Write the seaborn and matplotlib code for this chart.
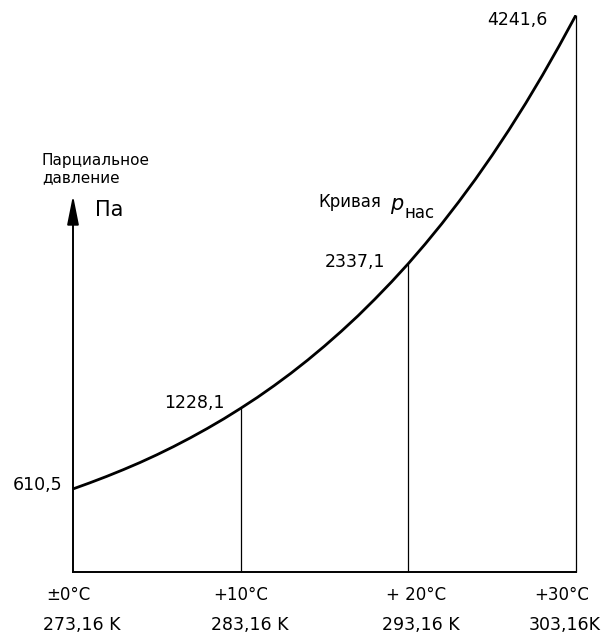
import numpy as np
import pandas as pd
import matplotlib
matplotlib.use("Agg")
import matplotlib.pyplot as plt
import seaborn as sns

temp_c = [0, 1, 2, 3, 4, 5, 6, 7, 8, 9, 10, 11, 12, 13, 14, 15,
          16, 17, 18, 19, 20, 21, 22, 23, 24, 25, 26, 27, 28, 29, 30]
p_sat = [610.5, 657, 706, 758, 813, 872, 935, 1002, 1073, 1148, 1228.1,
         1312, 1402, 1497, 1598, 1705, 1818, 1937, 2064, 2197, 2337.1,
         2486, 2643, 2809, 2983, 3167, 3361, 3565, 3780, 4006, 4241.6]

# Отмеченные точки
mark_t = [0, 10, 20, 30]
mark_p = [610.5, 1228.1, 2337.1, 4241.6]
mark_lbl = ["610,5", "1228,1", "2337,1", "4241,6"]
tick_c = ["±0°C", "+10°C", "+ 20°C", "+30°C"]
tick_k = ["273,16 K", "283,16 K", "293,16 K", "303,16K"]

sns.set_style("white")
plt.rcParams['font.family'] = ['DejaVu Sans']
plt.rcParams['text.color'] = 'black'

fig = plt.figure(figsize=(6.13, 6.36), dpi=100)
ax = fig.add_axes([73 / 613, 1 - 572 / 636, (576 - 73) / 613, (572 - 15) / 636])

df = pd.DataFrame({"t": temp_c, "p": p_sat})
sns.lineplot(data=df, x="t", y="p", ax=ax, color="black", lw=2.0)

y0 = -26
ax.set_xlim(0, 30)
ax.set_ylim(y0, 4241.6)
for s in ["top", "right", "left"]:
    ax.spines[s].set_visible(False)
ax.spines["bottom"].set_color("black")
ax.spines["bottom"].set_linewidth(1.4)
ax.set_xticks([])
ax.set_yticks([])
ax.set_xlabel("")
ax.set_ylabel("")

# Ось давления со стрелкой
ax.annotate("", xy=(0, 2860), xytext=(0, y0),
            arrowprops=dict(arrowstyle="-|>,head_length=1.1,head_width=0.22",
                            color="black", lw=1.4,
                            mutation_scale=16, shrinkA=0, shrinkB=0),
            annotation_clip=False)

# Вертикальные линии к кривой
for t, p in zip(mark_t[1:], mark_p[1:]):
    ax.vlines(t, y0, p, color="black", lw=0.9, clip_on=False)

# Подписи значений
lbl_pos = [(-0.66, 641), (9.07, 1269), (18.61, 2349), (28.33, 4203)]
for lbl, (x, y) in zip(mark_lbl, lbl_pos):
    ax.text(x, y, lbl, ha="right", va="center", fontsize=12.5)

# Подписи температур
c_x = [-0.3, 10.0, 20.45, 29.15]
k_x = [0.55, 10.55, 20.75, 29.3]
for xc, xk, c, k in zip(c_x, k_x, tick_c, tick_k):
    ax.text(xc, -200, c, ha="center", va="center", fontsize=12)
    ax.text(xk, -430, k, ha="center", va="center", fontsize=12.5)

ax.text(-1.85, 3062, "Парциальное\nдавление", ha="left", va="center",
        fontsize=11)
ax.text(1.31, 2748, "Па", ha="left", va="center", fontsize=15)

ax.text(14.61, 2771, "Кривая", ha="left", va="baseline", fontsize=12)
ax.text(18.9, 2748, "p", ha="left", va="baseline", fontsize=15, style="italic")
ax.text(19.8, 2686, "нас", ha="left", va="baseline", fontsize=12)

fig.savefig("out.png", dpi=100)
